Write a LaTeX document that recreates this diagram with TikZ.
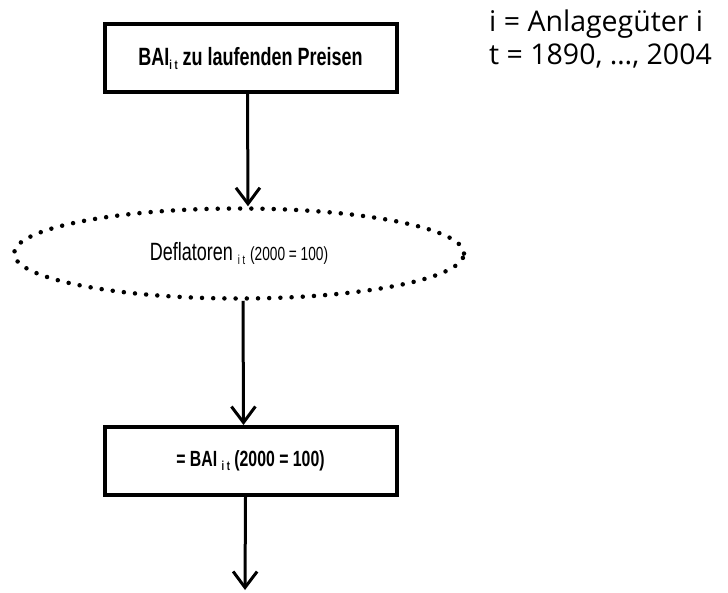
\documentclass[tikz,border=0pt]{standalone}
\usepackage{fontspec}
\usetikzlibrary{
  arrows.meta,      % offene Pfeilspitzen
  positioning,      % relative Lage
  shapes.geometric  % Ellipse
}
\newfontfamily\boxfont[FakeStretch=0.72]{Liberation Sans}
\newfontfamily\notefont{Open Sans}
\newcommand{\idx}[1]{\raisebox{-4pt}{\fontsize{13}{13}\selectfont #1}}
\tikzset{
  flowbox/.style={
    draw=black,
    line width=4pt,
    rectangle,
    minimum width=292pt,
    minimum height=68pt,
    font=\boxfont\bfseries\fontsize{25}{27}\selectfont
  },
  dotellipse/.style={
    draw=black,
    ellipse,
    line width=4.5pt,
    line cap=round,
    dash pattern=on 0pt off 11.2pt,
    minimum width=450pt,
    minimum height=90pt,
    font=\boxfont\fontsize{25}{27}\selectfont
  },
  flowarrow/.style={
    -{Straight Barb[length=16pt,width=24pt]},
    line width=3pt
  }
}

\begin{document}
\begin{tikzpicture}[x=1pt, y=-1pt]
  \useasboundingbox (0,0) rectangle (728,592);

  % Kästen und Ellipse
  \node[flowbox] (baiL) at (250.5,58)
    {\raisebox{-3pt}{BAI\idx{i t} zu laufenden Preisen}};
  \node[dotellipse] (defl) at (239,253.5)
    {\raisebox{-3pt}{Deflatoren \idx{i t} {\fontsize{19}{20}\selectfont (2000 = 100)}}};
  \node[flowbox, font=\boxfont\bfseries\fontsize{22}{24}\selectfont] (baiK) at (250.5,461)
    {= BAI \idx{i t} (2000 = 100)};

  % Legende rechts oben
  \node[anchor=north west, align=left, inner sep=0pt,
        font=\notefont\fontsize{28.5}{33}\selectfont] (legende) at (489,10)
    {i = Anlagegüter i\\t = 1890, \dots, 2004};

  % Pfeile
  \coordinate (ende) at (245,590);
  \draw[flowarrow] ([xshift=-3pt]baiL.south) -- ([xshift=9pt]defl.north);
  \draw[flowarrow] ([xshift=4pt]defl.south) -- ([xshift=-7pt]baiK.north);
  \draw[flowarrow] ([xshift=-5pt]baiK.south) -- (ende);
\end{tikzpicture}
\end{document}
